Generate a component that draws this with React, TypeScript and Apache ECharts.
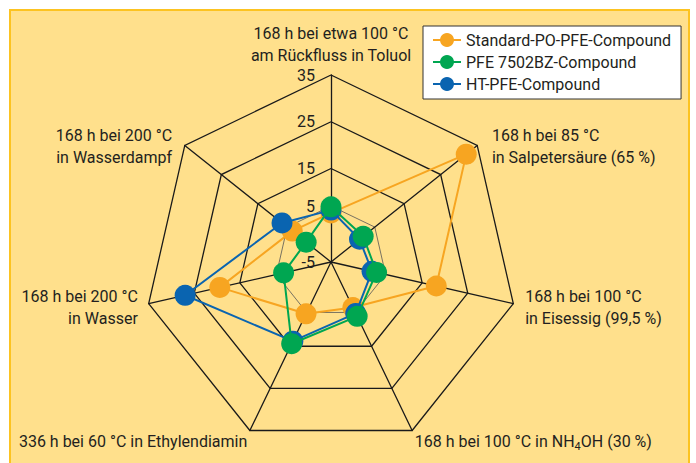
import React, { useEffect, useRef } from 'react';
import * as echarts from 'echarts';

// ---- data ----
const indicatorNames = [
  '168 h bei etwa 100 °C\nam Rückfluss in Toluol',
  '168 h bei 200 °C\nin Wasserdampf',
  '168 h bei 200 °C\nin Wasser',
  '336 h bei 60 °C in Ethylendiamin',
  '168 h bei 100 °C in NH4OH (30 %)',
  '168 h bei 100 °C\nin Eisessig (99,5 %)',
  '168 h bei 85 °C\nin Salpetersäure (65 %)',
];
const axisMin = -5;
const axisMax = 35;
const axisSplits = 4;
const innerRingMin = -5;
const innerRingMax = 5;
const seriesNames = ['Standard-PO-PFE-Compound', 'PFE 7502BZ-Compound', 'HT-PFE-Compound'];
const standardValues = [5.5, 5.6, 19.4, 7.3, 5.8, 18.1, 32.0];
const pfe7502Values = [6.8, 1.8, 5.4, 14.4, 7.9, 5.0, 3.8];
const htValues = [6.1, 8.4, 27.0, 13.8, 7.2, 4.0, 2.8];

// ---- styles ----
const FONT = 'Roboto, "Liberation Sans", sans-serif';
const FS = 16;
const TEXT = '#231f20';
const ORANGE = '#f7a521';
const GREEN = '#00a651';
const BLUE = '#0a64b0';
const GRID = '#1a1a1a';
const LH = 22;
// per-indicator name offsets: [shiftDown*2, padRight, padLeft, shiftUp]
const nameShift: number[][] = [
  [0, 0, 0, 3],
  [10, 8, 0, 0],
  [5, 5, 0, 0],
  [12, 0, 0, 0],
  [12, 0, 0, 0],
  [6, 0, 6, 0],
  [10, 0, 10, 0],
];

function buildRich() {
  const rich: Record<string, any> = {};
  nameShift.forEach(([p, pr, pl, q], i) => {
    rich['a' + i] = { fontFamily: FONT, fontSize: FS, color: TEXT, lineHeight: LH + p, padding: [p, pr, 0, pl] };
    rich['b' + i] = { fontFamily: FONT, fontSize: FS, color: TEXT, lineHeight: LH + q, padding: [0, pr, q, pl] };
    rich['s' + i] = { fontFamily: FONT, fontSize: 11, color: TEXT, lineHeight: LH + p, padding: [p + 10, 0, 0, 0] };
  });
  return rich;
}

function formatName(name: string) {
  const i = indicatorNames.indexOf(name);
  const lines = name.split('\n');
  const fmtLine = (line: string, key: string) => {
    if (line.indexOf('NH4OH') >= 0) {
      const parts = line.split('NH4OH');
      return `{${key}|${parts[0]}NH}{s${i}|4}{${key}|OH${parts[1]}}`;
    }
    return `{${key}|${line}}`;
  };
  return lines.map((l, k) => fmtLine(l, (k === 0 ? 'a' : 'b') + i)).join('\n');
}

export default function App() {
  const ref = useRef<HTMLDivElement>(null);
  useEffect(() => {
    if (!ref.current) return;
    const chart = echarts.init(ref.current, undefined, { renderer: 'svg' });
    const labelBase = { fontFamily: FONT, fontSize: 16, color: TEXT, margin: 16, lineHeight: 14 };
    const option: any = {
      animation: false,
      backgroundColor: '#ffffff',
      graphic: [
        {
          type: 'rect',
          z: -100,
          silent: true,
          shape: { x: 10, y: 10, width: 679, height: 470 },
          style: { fill: '#ffe08c', stroke: '#fcc321', lineWidth: 2 },
        },
      ],
      legend: {
        data: seriesNames,
        orient: 'vertical',
        left: 423,
        top: 26,
        padding: [3, 10, 4, 10],
        itemWidth: 28,
        itemHeight: 14,
        itemGap: 0,
        backgroundColor: '#ffffff',
        borderColor: '#333333',
        borderWidth: 1,
        borderRadius: 0,
        selectedMode: false,
        icon: 'path://M0,6H28V8H0Z M14,0A7,7 0 1,1 13.99,0Z',
        textStyle: { fontFamily: FONT, fontSize: FS, color: TEXT, lineHeight: LH },
      },
      radar: [
        {
          center: [331, 262],
          radius: 187,
          startAngle: 90,
          splitNumber: axisSplits,
          shape: 'polygon',
          indicator: indicatorNames.map((n, i) => {
            const ind: any = { name: n, min: axisMin, max: axisMax };
            if (i === 0) {
              ind.axisLabel = {
                show: true,
                ...labelBase,
                formatter: (v: number) => (v === innerRingMax ? '' : String(v)),
              };
            }
            return ind;
          }),
          nameGap: 6,
          axisName: {
            formatter: (v: string) => formatName(v),
            fontFamily: FONT,
            fontSize: FS,
            color: TEXT,
            rich: buildRich(),
          },
          axisLine: { show: true, lineStyle: { color: GRID, width: 1.3 } },
          splitLine: {
            show: true,
            lineStyle: { color: [GRID, 'rgba(0,0,0,0)', GRID, GRID, GRID], width: 1.3 },
          },
          splitArea: { show: false },
          axisTick: { show: false },
          axisLabel: { show: false },
        },
        {
          center: [331, 262],
          radius: 56,
          startAngle: 90,
          splitNumber: 1,
          shape: 'polygon',
          indicator: indicatorNames.map((n, i) => {
            const ind: any = { name: '', min: innerRingMin, max: innerRingMax };
            if (i === 0) {
              ind.axisLabel = {
                show: true,
                ...labelBase,
                formatter: (v: number) => (v === innerRingMax ? String(v) : ''),
              };
            }
            return ind;
          }),
          axisName: { show: false },
          axisLine: { show: false },
          splitLine: { show: true, lineStyle: { color: '#555555', width: 0.8 } },
          splitArea: { show: false },
          axisTick: { show: false },
          axisLabel: { show: false },
        },
      ],
      series: [
        {
          type: 'radar',
          radarIndex: 0,
          name: seriesNames[0],
          symbol: 'circle',
          symbolSize: 21,
          z: 3,
          lineStyle: { color: ORANGE, width: 2 },
          itemStyle: { color: ORANGE },
          data: [{ name: seriesNames[0], value: standardValues }],
        },
        {
          type: 'radar',
          radarIndex: 0,
          name: seriesNames[2],
          symbol: 'circle',
          symbolSize: 21,
          z: 4,
          lineStyle: { color: BLUE, width: 2 },
          itemStyle: { color: BLUE },
          data: [{ name: seriesNames[2], value: htValues }],
        },
        {
          type: 'radar',
          radarIndex: 0,
          name: seriesNames[1],
          symbol: 'circle',
          symbolSize: 21,
          z: 5,
          lineStyle: { color: GREEN, width: 2 },
          itemStyle: { color: GREEN },
          data: [{ name: seriesNames[1], value: pfe7502Values }],
        },
      ],
    };
    chart.setOption(option);
    return () => chart.dispose();
  }, []);
  return (
    <div
      ref={ref}
      style={{ position: 'fixed', left: 0, top: 0, width: 696, height: 463 }}
    />
  );
}
